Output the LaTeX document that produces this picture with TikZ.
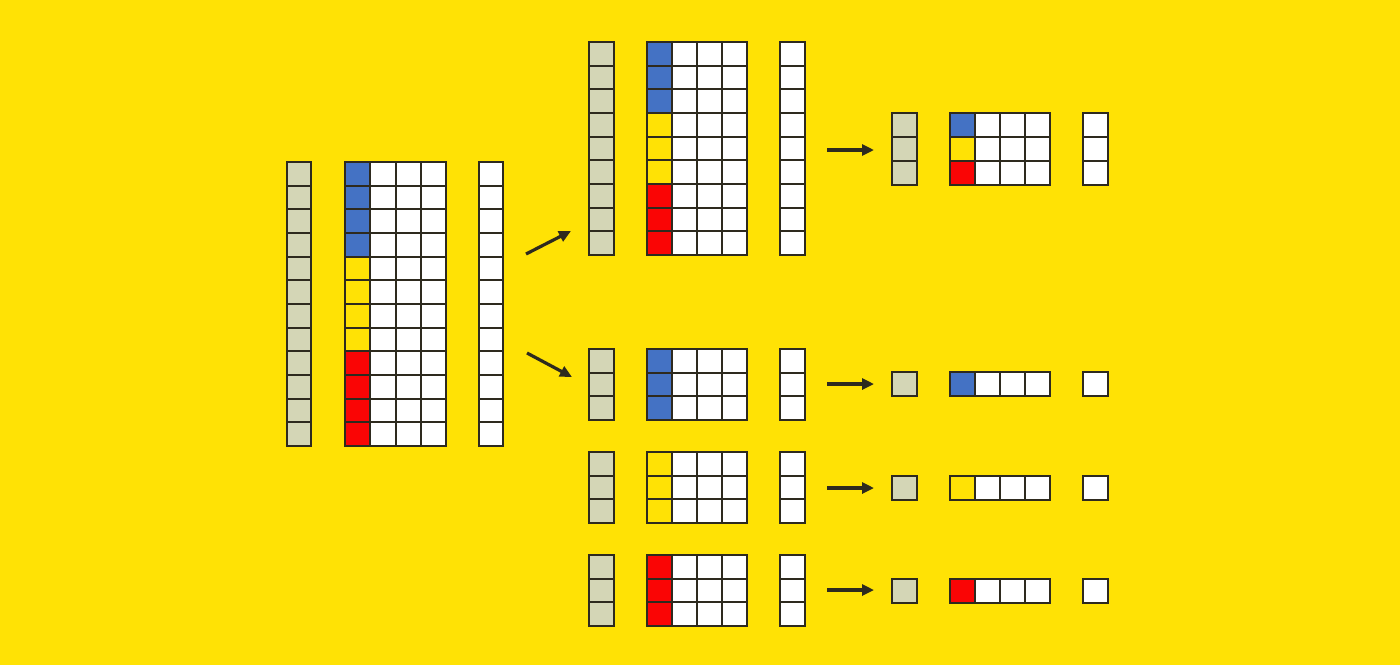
\documentclass[tikz,border=0pt]{standalone}
\usetikzlibrary{arrows.meta}
\definecolor{bgy}{HTML}{FFE205}
\definecolor{gg}{HTML}{D4D6B6}
\definecolor{cb}{HTML}{4472C4}
\definecolor{cr}{HTML}{FA0505}
\definecolor{ln}{HTML}{2E2A1E}
\tikzset{
  gridl/.style={draw=ln, line width=1pt},
  arr/.style={draw=ln, line width=1.6pt, -{Triangle[length=6pt,width=5.5pt]}},
  blockn/.style={inner sep=0pt, outer sep=0pt, anchor=north west}
}
% #1 name, #2 x0, #3 y0, #4 x1, #5 y1, #6 ncols, #7 nrows, #8 fill
\newcommand\blk[8]{%
  \node[blockn, fill=#8, minimum width={(#4-#2)*0.5pt}, minimum height={(#5-#3)*0.5pt}] (#1) at (#2,#3) {};
}
\newcommand\blkgrid[7]{%
  \foreach \i in {1,...,#6} {\draw[gridl] ({#2+\i*(#4-#2)/#6},#3) -- ({#2+\i*(#4-#2)/#6},#5);}
  \foreach \j in {1,...,#7} {\draw[gridl] (#2,{#3+\j*(#5-#3)/#7}) -- (#4,{#3+\j*(#5-#3)/#7});}
  \draw[gridl] (#1.north west) rectangle (#1.south east);
}
\begin{document}
\begin{tikzpicture}[x=0.5pt,y=-0.5pt]
\fill[bgy] (0,0) rectangle (1400,665);
\useasboundingbox (0,0) rectangle (1400,665);
% ---------- big left group ----------
\blk{bL}{287}{162}{311}{446}{1}{12}{gg}
\blk{bM}{345}{162}{446}{446}{4}{12}{white}
\blk{bR}{479}{162}{503}{446}{1}{12}{white}
\fill[cb] (345,162) rectangle (370.25,256.67);
\fill[bgy] (345,256.67) rectangle (370.25,351.33);
\fill[cr] (345,351.33) rectangle (370.25,446);
\blkgrid{bL}{287}{162}{311}{446}{1}{12}
\blkgrid{bM}{345}{162}{446}{446}{4}{12}
\blkgrid{bR}{479}{162}{503}{446}{1}{12}
% ---------- top middle group ----------
\blk{tL}{589}{42}{614}{255}{1}{9}{gg}
\blk{tM}{647}{42}{747}{255}{4}{9}{white}
\blk{tR}{780}{42}{805}{255}{1}{9}{white}
\fill[cb] (647,42) rectangle (672,113);
\fill[bgy] (647,113) rectangle (672,184);
\fill[cr] (647,184) rectangle (672,255);
\blkgrid{tL}{589}{42}{614}{255}{1}{9}
\blkgrid{tM}{647}{42}{747}{255}{4}{9}
\blkgrid{tR}{780}{42}{805}{255}{1}{9}
% ---------- middle groups ----------
\foreach \nm/\ya/\yb/\cc in {a/349/420/cb, b/452/523/bgy, c/555/626/cr} {
  \blk{m\nm L}{589}{\ya}{614}{\yb}{1}{3}{gg}
  \blk{m\nm M}{647}{\ya}{747}{\yb}{4}{3}{white}
  \blk{m\nm R}{780}{\ya}{805}{\yb}{1}{3}{white}
  \fill[\cc] (647,\ya) rectangle (672,\yb);
  \blkgrid{m\nm L}{589}{\ya}{614}{\yb}{1}{3}
  \blkgrid{m\nm M}{647}{\ya}{747}{\yb}{4}{3}
  \blkgrid{m\nm R}{780}{\ya}{805}{\yb}{1}{3}
}
% ---------- right top group ----------
\blk{rL}{892}{113}{917}{185}{1}{3}{gg}
\blk{rM}{950}{113}{1050}{185}{4}{3}{white}
\blk{rR}{1083}{113}{1108}{185}{1}{3}{white}
\fill[cb] (950,113) rectangle (975,137);
\fill[bgy] (950,137) rectangle (975,161);
\fill[cr] (950,161) rectangle (975,185);
\blkgrid{rL}{892}{113}{917}{185}{1}{3}
\blkgrid{rM}{950}{113}{1050}{185}{4}{3}
\blkgrid{rR}{1083}{113}{1108}{185}{1}{3}
% ---------- right single rows ----------
\foreach \nm/\ya/\yb/\cc in {a/372/396/cb, b/476/500/bgy, c/579/603/cr} {
  \blk{s\nm L}{892}{\ya}{917}{\yb}{1}{1}{gg}
  \blk{s\nm M}{950}{\ya}{1050}{\yb}{4}{1}{white}
  \blk{s\nm R}{1083}{\ya}{1108}{\yb}{1}{1}{white}
  \fill[\cc] (950,\ya) rectangle (975,\yb);
  \blkgrid{s\nm L}{892}{\ya}{917}{\yb}{1}{1}
  \blkgrid{s\nm M}{950}{\ya}{1050}{\yb}{4}{1}
  \blkgrid{s\nm R}{1083}{\ya}{1108}{\yb}{1}{1}
}
% ---------- arrows ----------
\coordinate (a1s) at (526,254); \coordinate (a1e) at (571,231);
\coordinate (a2s) at (527,353); \coordinate (a2e) at (572,377);
\draw[arr] (a1s) -- (a1e);
\draw[arr] (a2s) -- (a2e);
\foreach \nm/\yy in {r0/150, r1/384, r2/488, r3/590} {
  \coordinate (\nm s) at (827,\yy);
  \coordinate (\nm e) at (874,\yy);
  \draw[arr] (\nm s) -- (\nm e);
}
\end{tikzpicture}
\end{document}
